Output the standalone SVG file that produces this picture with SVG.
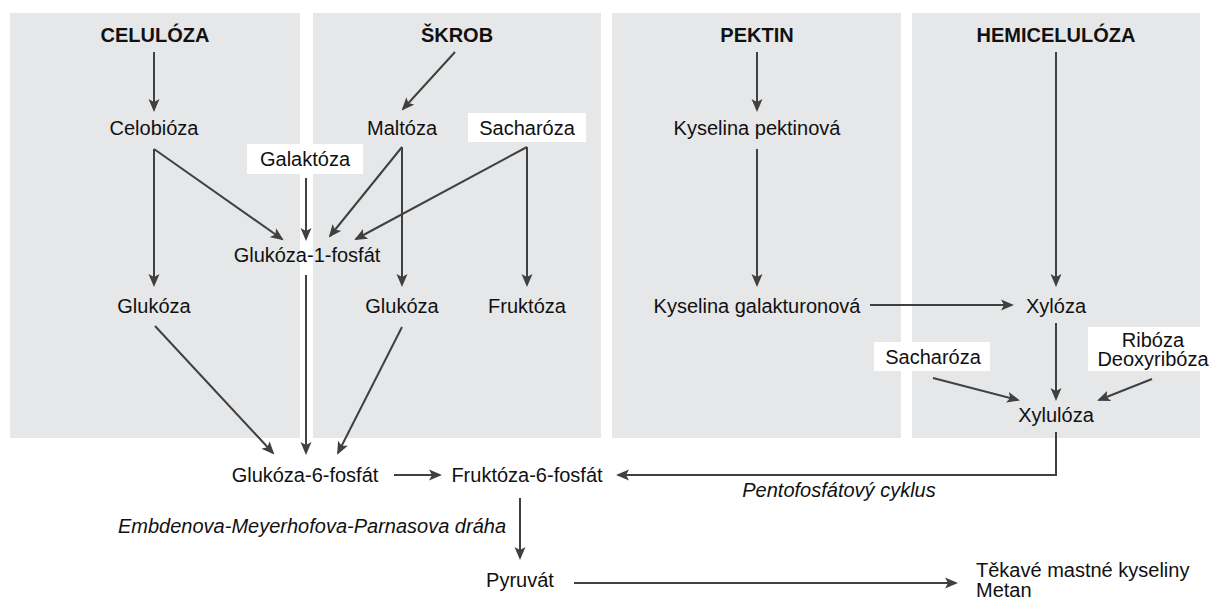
<svg xmlns="http://www.w3.org/2000/svg" width="1210" height="598" viewBox="0 0 1210 598">
<style>
.panel{fill:#e6e7e8}
.box{fill:#ffffff}
text{font-family:"Liberation Sans",Arial,sans-serif;font-size:20px;fill:#111;text-anchor:middle}
.h{font-weight:bold}
.it{font-style:italic}
.c line,.c polyline{stroke:#404040;stroke-width:2;fill:none;marker-end:url(#ah)}
</style>
<defs>
<marker id="ah" markerUnits="userSpaceOnUse" markerWidth="14" markerHeight="12" viewBox="0 0 14 12" refX="11" refY="6" orient="auto">
<path d="M0,0.5 L13,6 L0,11.5 L3,6 z" fill="#404040"/>
</marker>
</defs>
<rect width="1210" height="598" fill="#ffffff"/>
<g id="panels">
<rect class="panel" x="10" y="13" width="290" height="425"/>
<rect class="panel" x="313" y="13" width="288" height="425"/>
<rect class="panel" x="612" y="13" width="289" height="425"/>
<rect class="panel" x="912" y="13" width="288" height="425"/>
</g>
<g class="c" id="connectors">
<line x1="154" y1="52" x2="154" y2="110"/>
<line x1="455" y1="52" x2="403" y2="109"/>
<line x1="154" y1="149" x2="154" y2="285"/>
<line x1="154" y1="149" x2="282" y2="239"/>
<line x1="306" y1="178" x2="306" y2="239"/>
<line x1="402" y1="147" x2="330" y2="236"/>
<line x1="402" y1="147" x2="402" y2="285"/>
<line x1="527" y1="147" x2="356" y2="239"/>
<line x1="527" y1="147" x2="527" y2="285"/>
<line x1="757" y1="52" x2="757" y2="110"/>
<line x1="757" y1="149" x2="757" y2="285"/>
<line x1="1056" y1="52" x2="1056" y2="285"/>
<line x1="870" y1="305" x2="1012" y2="305"/>
<line x1="1056" y1="323" x2="1056" y2="399"/>
<line x1="933" y1="378" x2="1018" y2="400"/>
<line x1="1152" y1="379" x2="1099" y2="400"/>
<polyline points="1056,432 1056,475 618,475"/>
<line x1="155" y1="326" x2="273" y2="453"/>
<line x1="306" y1="275" x2="306" y2="453"/>
<line x1="402" y1="327" x2="338" y2="453"/>
<line x1="394" y1="475" x2="440" y2="475"/>
<line x1="520" y1="498" x2="520" y2="558"/>
<line x1="574" y1="583" x2="956" y2="583"/>
</g>
<g id="celuloza"><text class="h" x="155" y="42">CELULÓZA</text></g>
<g id="skrob"><text class="h" x="457" y="42">ŠKROB</text></g>
<g id="pektin"><text class="h" x="757" y="42">PEKTIN</text></g>
<g id="hemiceluloza"><text class="h" x="1056" y="42">HEMICELULÓZA</text></g>
<g id="celobioza"><text x="154" y="135">Celobióza</text></g>
<g id="maltoza"><text x="402" y="135">Maltóza</text></g>
<g id="sacharoza1"><rect class="box" x="468" y="113" width="118" height="29"/><text x="527" y="135">Sacharóza</text></g>
<g id="galaktoza"><rect class="box" x="247" y="144" width="116" height="30"/><text x="305" y="166">Galaktóza</text></g>
<g id="kyselina-pektinova"><text x="757" y="135">Kyselina pektinová</text></g>
<g id="glukoza-1-fosfat"><text x="307" y="262">Glukóza-1-fosfát</text></g>
<g id="glukoza1"><text x="154" y="313">Glukóza</text></g>
<g id="glukoza2"><text x="402" y="313">Glukóza</text></g>
<g id="fruktoza"><text x="527" y="313">Fruktóza</text></g>
<g id="kyselina-galakturonova"><text x="757" y="313">Kyselina galakturonová</text></g>
<g id="xyloza"><text x="1056" y="313">Xylóza</text></g>
<g id="sacharoza2"><rect class="box" x="874" y="342" width="116" height="29"/><text x="933" y="364">Sacharóza</text></g>
<g id="riboza"><rect class="box" x="1088" y="327" width="122" height="44"/><text x="1153" y="347">Ribóza</text><text x="1153" y="366">Deoxyribóza</text></g>
<g id="xyluloza"><text x="1056" y="422">Xylulóza</text></g>
<g id="glukoza-6-fosfat"><text x="305" y="482">Glukóza-6-fosfát</text></g>
<g id="fruktoza-6-fosfat"><text x="527" y="482">Fruktóza-6-fosfát</text></g>
<g id="pentofosfat"><text class="it" x="839" y="497">Pentofosfátový cyklus</text></g>
<g id="emp"><text class="it" x="506" y="533" style="text-anchor:end">Embdenova-Meyerhofova-Parnasova dráha</text></g>
<g id="pyruvat"><text x="520" y="587">Pyruvát</text></g>
<g id="produkty"><text x="976" y="577" style="text-anchor:start">Těkavé mastné kyseliny</text><text x="976" y="597" style="text-anchor:start">Metan</text></g>
</svg>
